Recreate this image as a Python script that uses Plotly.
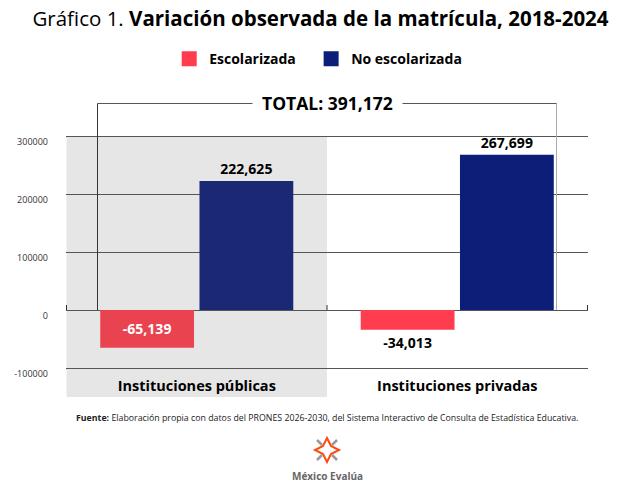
import plotly.graph_objects as go

# datos
categorias = ['Instituciones públicas', 'Instituciones privadas']
escolarizada = [-65139, -34013]
no_escolarizada = [222625, 267699]
ytick_vals = [-100000, 0, 100000, 200000, 300000]

total = sum(escolarizada) + sum(no_escolarizada)

ROJO = ['#e8434f', '#ff3d4f']
AZUL = ['#1b2873', '#0d1e78']
GRIS = '#e6e6e6'
FONT = 'Open Sans'
BARGAP = 0.238
Y_MIN, Y_MAX = -150000, 303500

fig = go.Figure()

fig.add_trace(go.Bar(
    x=categorias, y=escolarizada, name='Escolarizada',
    marker=dict(color=ROJO, line=dict(width=0)),
    text=[f'{v:,}' for v in escolarizada],
    textposition=['inside', 'outside'],
    insidetextanchor='middle',
    textfont=dict(family=FONT, size=14, color=['white', 'black'], weight='bold'),
    textangle=0, cliponaxis=False, showlegend=False))

fig.add_trace(go.Bar(
    x=categorias, y=no_escolarizada, name='No escolarizada',
    marker=dict(color=AZUL, line=dict(width=0)),
    text=[f'{v:,}' for v in no_escolarizada],
    textposition='outside',
    textfont=dict(family=FONT, size=14, color='black', weight='bold'),
    textangle=0, cliponaxis=False, showlegend=False))

# entradas de leyenda (cuadros), una leyenda para cada una
for name, col, leg in [('Escolarizada', ROJO[1], 'legend'),
                       ('No escolarizada', AZUL[1], 'legend2')]:
    fig.add_trace(go.Scatter(x=[None], y=[None], mode='markers', name=name, legend=leg,
                             marker=dict(symbol='square', size=15, color=col)))

fig.update_layout(barmode='group', bargap=BARGAP, bargroupgap=0.055,
                  width=641, height=500,
                  margin=dict(l=66, r=53, t=134, b=103),
                  plot_bgcolor='white', paper_bgcolor='white',
                  font=dict(family=FONT, color='black'))

fig.update_layout(title=dict(
    text='Gráfico 1. <b>Variación observada de la matrícula, 2018-2024</b>',
    x=0.5, xanchor='center', y=0.963, yanchor='middle',
    font=dict(family=FONT, size=20.5, color='black')))

leg_font = dict(family=FONT, size=14, weight='bold')
fig.update_layout(
    legend=dict(orientation='h', x=0.1977, xanchor='left', y=1.285, yanchor='middle',
                font=leg_font),
    legend2=dict(orientation='h', x=0.4696, xanchor='left', y=1.285, yanchor='middle',
                 font=leg_font))

fig.update_xaxes(showgrid=False, showline=False, zeroline=False, ticks='',
                 ticklabelposition='inside',
                 tickfont=dict(family=FONT, size=14.5, weight='bold', color='black'))
fig.update_yaxes(range=[Y_MIN, Y_MAX], tickvals=ytick_vals,
                 ticktext=[str(v) for v in ytick_vals],
                 showgrid=True, gridcolor='#555555', gridwidth=1,
                 zeroline=True, zerolinecolor='#555555', zerolinewidth=1,
                 showline=False, ticks='', ticklabelshift=6, ticklabelstandoff=17,
                 tickfont=dict(family=FONT, size=9, color='#333333'))

# fondo gris para instituciones públicas (desde la línea de 300000)
fig.add_shape(type='rect', xref='x', yref='y', x0=-0.5, x1=0.5, y0=Y_MIN, y1=ytick_vals[-1],
              fillcolor=GRIS, line_width=0, layer='below')

# marcas en la línea cero, límites de categoría
for xb in [-0.5, 0.5, 1.5]:
    fig.add_shape(type='line', xref='x', yref='y', x0=xb, x1=xb,
                  ysizemode='pixel', yanchor=0, y0=0, y1=5,
                  line=dict(color='#333333', width=1))

# corchete del total
x_izq = -0.5 + BARGAP / 2
x_der = 1.5 - BARGAP / 2
y_top = 1.116
y_cero = -Y_MIN / (Y_MAX - Y_MIN)
fig.add_shape(type='line', xref='x', yref='paper', x0=x_izq, x1=x_izq, y0=y_top,
              y1=y_cero, line=dict(color='#333333', width=1))
fig.add_shape(type='line', xref='x', yref='paper', x0=x_der, x1=x_der, y0=y_top,
              y1=y_cero, line=dict(color='#aaaaaa', width=1))
fig.add_shape(type='line', xref='x', yref='paper', x0=x_izq, x1=x_der, y0=y_top,
              y1=y_top, line=dict(color='#555555', width=1))
fig.add_annotation(text=f'<b>TOTAL: {total:,}</b>', xref='paper', yref='paper',
                   x=0.5, y=y_top, yanchor='middle', showarrow=False,
                   bgcolor='white', borderpad=9,
                   font=dict(family=FONT, size=17.5, color='black'))

# fuente
fig.add_annotation(text='<b>Fuente:</b> Elaboración propia con datos del PRONES 2026-2030, '
                        'del Sistema Interactivo de Consulta de Estadística Educativa.',
                   xref='paper', yref='paper', x=0.5, y=-0.08, yanchor='middle',
                   showarrow=False, font=dict(family=FONT, size=8.8, color='#222222'))

# logo México Evalúa
fig.add_shape(type='path', xref='paper', yref='paper', xsizemode='pixel',
              ysizemode='pixel', xanchor=0.5, yanchor=-0.2015,
              path='M 0,12 L 4,4 L 12,0 L 4,-4 L 0,-12 L -4,-4 L -12,0 L -4,4 Z',
              line=dict(color='#ff4a14', width=2))
for sx, sy in [(1, 1), (1, -1), (-1, 1), (-1, -1)]:
    fig.add_shape(type='line', xref='paper', yref='paper', xsizemode='pixel',
                  ysizemode='pixel', xanchor=0.5, yanchor=-0.2015,
                  x0=5 * sx, y0=5 * sy, x1=10 * sx, y1=10 * sy,
                  line=dict(color='#999999', width=2.5))
fig.add_annotation(text='<b>México Evalúa</b>', xref='paper', yref='paper',
                   x=0.5, y=-0.30, yanchor='middle', showarrow=False,
                   font=dict(family=FONT, size=10, color='#666666'))

# sin el margen de 8px del body, la figura ocupa toda la ventana
fig.write_html('out.html', config={'displayModeBar': False},
               post_script="document.body.style.margin='0';")
